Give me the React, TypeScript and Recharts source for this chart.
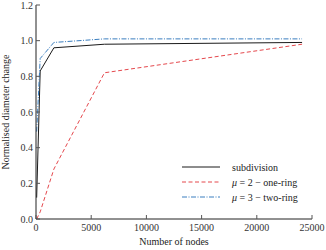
import { Label, Line, LineChart, XAxis, YAxis } from "recharts";

const nodes = [60, 380, 1620, 6200, 24100];
const subdivision = [0.12, 0.83, 0.96, 0.98, 0.99];
const oneRing = [0.0, 0.04, 0.28, 0.82, 0.98];
const twoRing = [0.49, 0.9, 0.99, 1.01, 1.01];

const xTicks = [0, 5000, 10000, 15000, 20000, 25000];
const yTicks = [0, 0.2, 0.4, 0.6, 0.8, 1.0, 1.2];

const data = nodes.map((n, i) => ({
  n,
  subdivision: subdivision[i],
  oneRing: oneRing[i],
  twoRing: twoRing[i],
}));

const FONT = "'Liberation Serif', 'DejaVu Serif', serif";
const TICK = "#555";

function BottomTick({ x, y, payload }: any) {
  return (
    <g>
      <line x1={x} y1={y} x2={x} y2={y - 4} stroke={TICK} strokeWidth={1} />
      <text x={x} y={y + 12} textAnchor="middle" fontSize={10} fontFamily={FONT} fill="#333">
        {payload.value}
      </text>
    </g>
  );
}

function LeftTick({ x, y, payload }: any) {
  return (
    <g>
      <line x1={x} y1={y} x2={x + 4} y2={y} stroke={TICK} strokeWidth={1} />
      <text x={x - 3} y={y + 3.5} textAnchor="end" fontSize={10} fontFamily={FONT} fill="#333">
        {Number(payload.value).toFixed(1)}
      </text>
    </g>
  );
}

function TopTick({ x, y }: any) {
  return <line x1={x} y1={y} x2={x} y2={y + 4} stroke={TICK} strokeWidth={1} />;
}

function RightTick({ x, y }: any) {
  return <line x1={x} y1={y} x2={x - 4} y2={y} stroke={TICK} strokeWidth={1} />;
}

const legendItems = [
  { label: "subdivision", color: "#1a1a1a", dash: undefined as string | undefined, mu: "" },
  { label: " = 2 \u2212 one-ring", color: "#e5484d", dash: "4 2.5", mu: "\u03bc" },
  { label: " = 3 \u2212 two-ring", color: "#3a7ebf", dash: "5 1.5 1 1.5", mu: "\u03bc" },
];

function LegendBox() {
  return (
    <svg width={140} height={48} style={{ position: "absolute", left: 182, top: 161, overflow: "visible" }}>
      {legendItems.map((it, i) => (
        <g key={i} transform={`translate(0, ${i * 15 + 6})`}>
          <line x1={0} y1={0} x2={38} y2={0} stroke={it.color} strokeWidth={1} strokeDasharray={it.dash} />
          <text x={50} y={3.5} fontSize={10} fontFamily={FONT} fill="#222">
            {it.mu ? <tspan fontStyle="italic">{it.mu}</tspan> : null}
            {it.label}
          </text>
        </g>
      ))}
    </svg>
  );
}

export default function App() {
  return (
    <div style={{ position: "absolute", left: 0, top: 0, width: 326, height: 250, background: "#fff" }}>
      <LineChart width={326} height={250} data={data} margin={{ top: 5, right: 14, left: 0, bottom: 0 }}>
        <XAxis
          dataKey="n"
          type="number"
          domain={[0, 25000]}
          ticks={xTicks}
          height={31}
          tickSize={0}
          tickMargin={0}
          tick={<BottomTick />}
          axisLine={{ stroke: "#222", strokeWidth: 1 }}
          interval={0}
        >
          <Label
            content={() => (
              <text x={174} y={245} textAnchor="middle" fontSize={10} fontFamily={FONT} fill="#222">
                Number of nodes
              </text>
            )}
          />
        </XAxis>
        <XAxis
          xAxisId="top"
          orientation="top"
          dataKey="n"
          type="number"
          domain={[0, 25000]}
          ticks={xTicks}
          height={0}
          tickSize={0}
          tickMargin={0}
          tick={<TopTick />}
          axisLine={{ stroke: "#a8a8a8", strokeWidth: 2 }}
          interval={0}
        />
        <YAxis
          type="number"
          domain={[0, 1.2]}
          ticks={yTicks}
          width={36}
          tickSize={0}
          tickMargin={0}
          tick={<LeftTick />}
          axisLine={{ stroke: "#222", strokeWidth: 1 }}
          interval={0}
        >
          <Label
            content={() => (
              <text
                x={9}
                y={112}
                transform="rotate(-90 9 112)"
                textAnchor="middle"
                fontSize={10}
                fontFamily={FONT}
                fill="#222"
              >
                Normalised diameter change
              </text>
            )}
          />
        </YAxis>
        <YAxis
          yAxisId="right"
          orientation="right"
          type="number"
          domain={[0, 1.2]}
          ticks={yTicks}
          width={0}
          tickSize={0}
          tickMargin={0}
          tick={<RightTick />}
          axisLine={{ stroke: "#a8a8a8", strokeWidth: 2 }}
          interval={0}
        />
        <Line
          dataKey="subdivision"
          stroke="#1a1a1a"
          strokeWidth={1}
          dot={false}
          type="linear"
          isAnimationActive={false}
        />
        <Line
          dataKey="oneRing"
          stroke="#e5484d"
          strokeWidth={1}
          strokeDasharray="4 2.5"
          dot={false}
          type="linear"
          isAnimationActive={false}
        />
        <Line
          dataKey="twoRing"
          stroke="#3a7ebf"
          strokeWidth={1}
          strokeDasharray="5 1.5 1 1.5"
          dot={false}
          type="linear"
          isAnimationActive={false}
        />
      </LineChart>
      <LegendBox />
    </div>
  );
}
